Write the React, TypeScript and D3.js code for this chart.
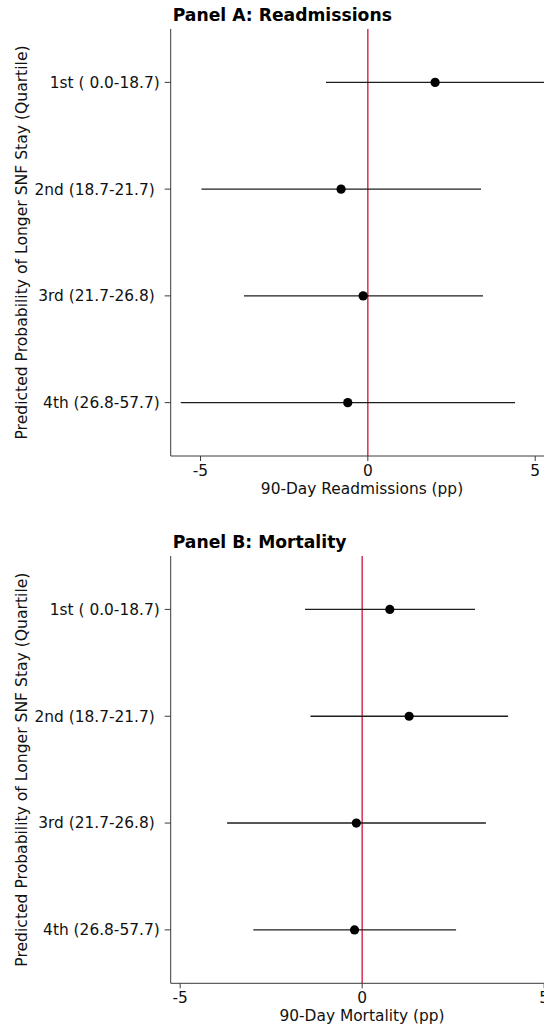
import React from "react";
import * as d3 from "d3";

// Quartile categories (shared by both panels)
const quartileLabels = ["1st ( 0.0-18.7)", "2nd (18.7-21.7) ", "3rd (21.7-26.8) ", "4th (26.8-57.7)"];

// Panel A: 90-day readmissions (percentage points)
const readmitEst = [2.01, -0.8, -0.14, -0.6];
const readmitLo = [-1.25, -4.97, -3.7, -5.59];
const readmitHi = [5.27, 3.38, 3.44, 4.4];

// Panel B: 90-day mortality (percentage points)
const mortEst = [0.76, 1.29, -0.16, -0.21];
const mortLo = [-1.57, -1.42, -3.71, -2.99];
const mortHi = [3.1, 4.01, 3.4, 2.58];

const xTicks = [-5, 0, 5];

const FONT = "DejaVu Sans, Verdana, sans-serif";
const YLABEL = "Predicted Probability of Longer SNF Stay (Quartile)";

type PanelProps = {
  title: string;
  xLabel: string;
  est: number[];
  lo: number[];
  hi: number[];
  top: number;
  bottom: number;
  xMin: number;
  xMax: number;
};

const LEFT = 170.7;
const WIDTH = 394;

function Panel({ title, xLabel, est, lo, hi, top, bottom, xMin, xMax }: PanelProps) {
  const x = d3.scaleLinear().domain([xMin, xMax]).range([LEFT, LEFT + WIDTH]);
  const y = d3.scaleLinear().domain([0.5, 4.5]).range([top, bottom]);
  const rows = quartileLabels.map((label, i) => ({ label, pos: i + 1, est: est[i], lo: lo[i], hi: hi[i] }));
  const axisColor = "#3a3a3a";
  const midY = (top + bottom) / 2;

  return (
    <g>
      <text x={LEFT + 2} y={top - 8} fontFamily={FONT} fontWeight="bold" fontSize={17.2} fill="#000">
        {title}
      </text>

      {/* reference line at zero */}
      <line x1={x(0)} x2={x(0)} y1={top} y2={bottom} stroke="#d0103a" strokeWidth={1.3} />

      {/* confidence intervals and point estimates */}
      {rows.map((r) => (
        <g key={r.label}>
          <line x1={x(r.lo)} x2={x(r.hi)} y1={y(r.pos)} y2={y(r.pos)} stroke="#1e1e1e" strokeWidth={1.4} />
          <circle cx={x(r.est)} cy={y(r.pos)} r={4.6} fill="#000" />
        </g>
      ))}

      {/* spines */}
      <line x1={LEFT} x2={LEFT} y1={top} y2={bottom} stroke={axisColor} strokeWidth={1} />
      <line x1={LEFT} x2={LEFT + WIDTH} y1={bottom} y2={bottom} stroke={axisColor} strokeWidth={1} />

      {/* y ticks */}
      {rows.map((r) => (
        <g key={"yt" + r.label}>
          <line x1={LEFT - 6} x2={LEFT} y1={y(r.pos)} y2={y(r.pos)} stroke={axisColor} strokeWidth={1} />
          <text
            x={LEFT - 11}
            y={y(r.pos)}
            dy="0.35em"
            textAnchor="end"
            fontFamily={FONT}
            fontSize={15.4}
            fill="#111"
            xmlSpace="preserve"
            style={{ whiteSpace: "pre" }}
          >
            {r.label}
          </text>
        </g>
      ))}

      {/* x ticks */}
      {xTicks.map((t) => (
        <g key={"xt" + t}>
          <line x1={x(t)} x2={x(t)} y1={bottom} y2={bottom + 5} stroke={axisColor} strokeWidth={1} />
          <text x={x(t)} y={bottom + 20} textAnchor="middle" fontFamily={FONT} fontSize={15.4} fill="#111">
            {t}
          </text>
        </g>
      ))}

      <text x={362} y={bottom + 38} textAnchor="middle" fontFamily={FONT} fontSize={15.4} fill="#111">
        {xLabel}
      </text>

      <text
        transform={`translate(${26.5},${midY}) rotate(-90)`}
        textAnchor="middle"
        fontFamily={FONT}
        fontSize={15.6}
        fill="#111"
      >
        {YLABEL}
      </text>
    </g>
  );
}

export default function App() {
  return (
    <svg
      width={544}
      height={1027}
      viewBox="0 0 544 1027"
      style={{ position: "absolute", left: 0, top: 0, background: "#fff", display: "block" }}
    >
      <rect width={544} height={1027} fill="#fff" />
      <Panel
        title="Panel A: Readmissions"
        xLabel="90-Day Readmissions (pp)"
        est={readmitEst}
        lo={readmitLo}
        hi={readmitHi}
        top={29}
        bottom={456}
        xMin={-5.89}
        xMax={-5.89 + WIDTH / 33.47}
      />
      <Panel
        title="Panel B: Mortality"
        xLabel="90-Day Mortality (pp)"
        est={mortEst}
        lo={mortLo}
        hi={mortHi}
        top={556}
        bottom={983.3}
        xMin={-5.26}
        xMax={-5.26 + WIDTH / 36.4}
      />
    </svg>
  );
}
